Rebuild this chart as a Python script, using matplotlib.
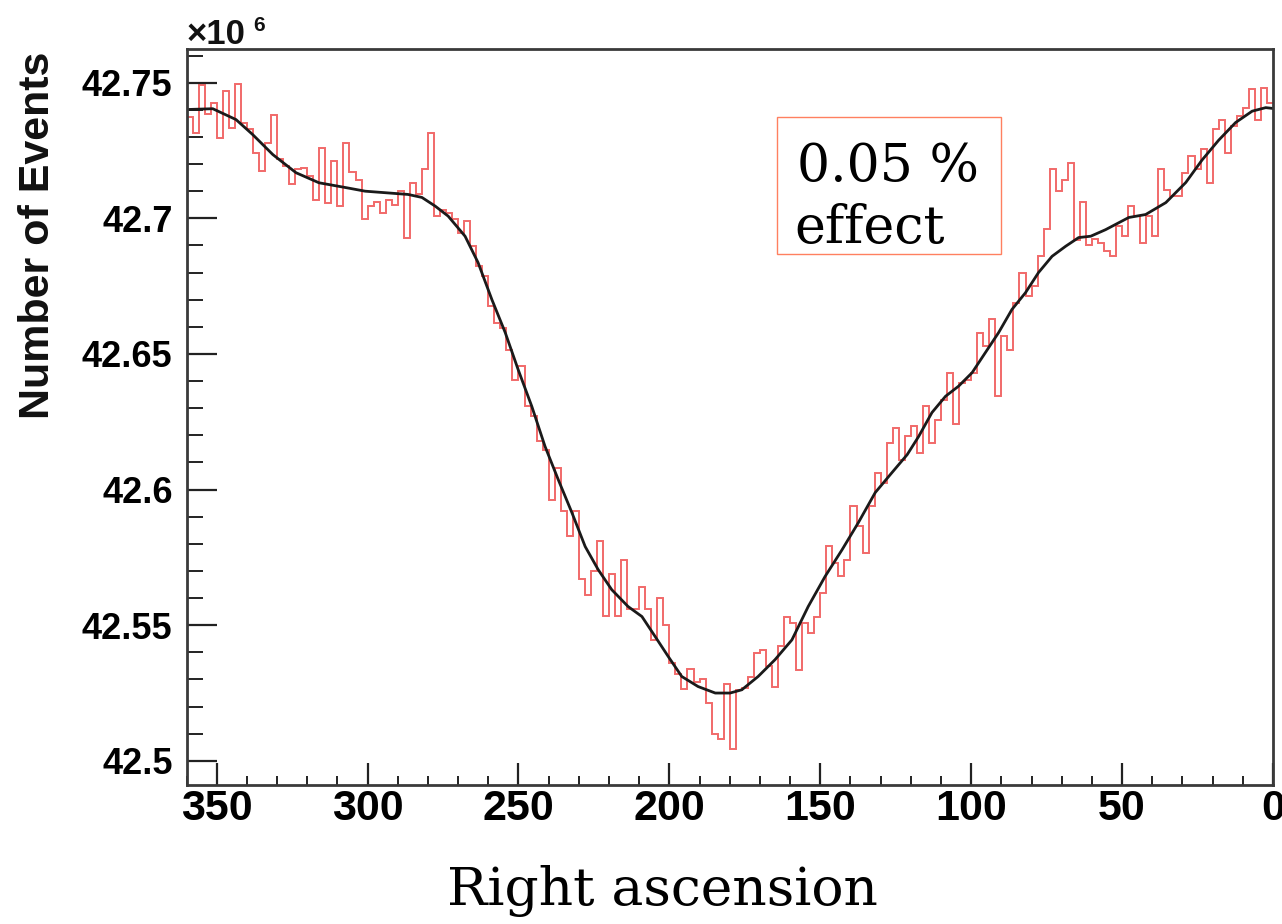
import numpy as np
import matplotlib
matplotlib.use("Agg")
import matplotlib.pyplot as plt
from matplotlib.ticker import MultipleLocator, FuncFormatter
from matplotlib.patches import Rectangle

# Event counts per 2-degree right-ascension bin (in units of 10^6),
# listed from 360 deg down to 0 deg.
counts = [
    42.7375, 42.7316, 42.7490, 42.7385, 42.7426, 42.7297, 42.7469, 42.7334, 42.7494, 42.7350,
    42.7330, 42.7242, 42.7174, 42.7278, 42.7380, 42.7217, 42.7192, 42.7125, 42.7180, 42.7186,
    42.7155, 42.7069, 42.7260, 42.7057, 42.7211, 42.7045, 42.7278, 42.7170, 42.7143, 42.6996,
    42.7045, 42.7060, 42.7020, 42.7069, 42.7050, 42.7100, 42.6928, 42.7130, 42.7088, 42.7180,
    42.7315, 42.7008, 42.7032, 42.7020, 42.6996, 42.6947, 42.6990, 42.6897, 42.6823, 42.6786,
    42.6676, 42.6615, 42.6596, 42.6516, 42.6405, 42.6455, 42.6307, 42.6270, 42.6178, 42.6147,
    42.5960, 42.6080, 42.5920, 42.5830, 42.5920, 42.5670, 42.5610, 42.5700, 42.5810, 42.5535,
    42.5690, 42.5535, 42.5740, 42.5560, 42.5560, 42.5640, 42.5560, 42.5445, 42.5600, 42.5500,
    42.5360, 42.5320, 42.5265, 42.5340, 42.5290, 42.5300, 42.5215, 42.5100, 42.5080, 42.5285,
    42.5045, 42.5260, 42.5270, 42.5310, 42.5397, 42.5410, 42.5350, 42.5274, 42.5422, 42.5532,
    42.5510, 42.5336, 42.5510, 42.5470, 42.5532, 42.5618, 42.5791, 42.5730, 42.5680, 42.5742,
    42.5938, 42.5865, 42.5766, 42.5938, 42.6061, 42.6024, 42.6172, 42.6227, 42.6110, 42.6196,
    42.6233, 42.6135, 42.6307, 42.6172, 42.6258, 42.6332, 42.6430, 42.6240, 42.6393, 42.6405,
    42.6430, 42.6578, 42.6528, 42.6627, 42.6344, 42.6565, 42.6516, 42.6688, 42.6799, 42.6713,
    42.6750, 42.6860, 42.6960, 42.7180, 42.7100, 42.7140, 42.7205, 42.6920, 42.7060, 42.6900,
    42.6922, 42.6910, 42.6878, 42.6860, 42.6970, 42.6934, 42.7045, 42.7008, 42.6910, 42.7008,
    42.6934, 42.7180, 42.7106, 42.7082, 42.7082, 42.7167, 42.7229, 42.7180, 42.7254, 42.7131,
    42.7328, 42.7364, 42.7242, 42.7340, 42.7376, 42.7407, 42.7475, 42.7364, 42.7481, 42.7426,
]

# Smooth fit through the distribution: right ascension (deg) and value (10^6)
fit_ra = [
    360.0, 351.3, 343.6, 338.1, 331.4, 323.7, 316.1, 307.1, 300.8, 286.6,
    282.0, 277.6, 273.3, 267.7, 263.4, 258.8, 254.4, 250.1, 245.6, 241.2,
    236.8, 232.3, 227.9, 223.6, 219.1, 213.7, 209.1, 204.7, 200.4, 195.9,
    190.5, 184.8, 179.9, 176.0, 170.6, 165.0, 159.4, 154.0, 148.4, 142.8,
    137.4, 131.8, 126.3, 121.2, 117.4, 113.0, 108.5, 104.2, 99.7, 95.3,
    90.9, 86.5, 82.0, 77.7, 73.2, 68.7, 64.4, 60.4, 55.5, 47.8,
    42.2, 35.5, 28.9, 23.5, 18.0, 12.4, 6.9, 2.4, 0.0,
]
fit_val = [
    42.7401, 42.7404, 42.7364, 42.7309, 42.7235, 42.7168, 42.7131, 42.7113, 42.7100, 42.7088,
    42.7077, 42.7045, 42.7008, 42.6934, 42.6837, 42.6700, 42.6579, 42.6442, 42.6307, 42.6159,
    42.6036, 42.5915, 42.5790, 42.5705, 42.5631, 42.5569, 42.5532, 42.5458, 42.5385, 42.5311,
    42.5274, 42.5250, 42.5250, 42.5262, 42.5311, 42.5373, 42.5446, 42.5569, 42.5680, 42.5778,
    42.5878, 42.5989, 42.6062, 42.6129, 42.6196, 42.6284, 42.6344, 42.6381, 42.6431, 42.6505,
    42.6579, 42.6664, 42.6726, 42.6800, 42.6860, 42.6897, 42.6929, 42.6934, 42.6958, 42.7003,
    42.7014, 42.7058, 42.7132, 42.7215, 42.7288, 42.7353, 42.7395, 42.7408, 42.7405,
]

W, H = 1282, 924
fig = plt.figure(figsize=(W / 100, H / 100), dpi=100)
fig.patch.set_facecolor("white")

ax = fig.add_axes([186.5 / W, 1 - 785 / H, (1273 - 186.5) / W, (785 - 48.5) / H])

n = len(counts)
edges = np.linspace(0, 360, n + 1)
ax.stairs(np.array(counts)[::-1], edges, color="#f05a5a", lw=1.4, baseline=None, alpha=0.9)
ax.plot(fit_ra, fit_val, color="#1a1a1a", lw=2.0)

ax.set_xlim(360, 0)
ax.set_ylim(42.4911, 42.7626)

for s in ["left", "bottom", "right", "top"]:
    ax.spines[s].set_color("#3a3a3a")
    ax.spines[s].set_linewidth(2.0)

ax.xaxis.set_major_locator(MultipleLocator(50))
ax.xaxis.set_minor_locator(MultipleLocator(10))
ax.yaxis.set_major_locator(MultipleLocator(0.05))
ax.yaxis.set_minor_locator(MultipleLocator(0.01))
ax.xaxis.set_major_formatter(FuncFormatter(lambda v, p: f"{v:g}"))
ax.yaxis.set_major_formatter(FuncFormatter(lambda v, p: f"{v:g}"))

ax.tick_params(axis="x", which="major", direction="in", length=16, width=1.6,
               color="#222222", pad=3, top=False)
ax.tick_params(axis="x", which="minor", direction="in", length=6.5, width=1.4,
               color="#222222", top=False)
ax.tick_params(axis="y", which="major", direction="in", length=21.5, width=1.6,
               color="#222222", pad=10, right=False)
ax.tick_params(axis="y", which="minor", direction="in", length=11.5, width=1.4,
               color="#222222", right=False)

for lab in ax.get_xticklabels():
    lab.set_fontfamily("Liberation Sans")
    lab.set_fontweight("bold")
    lab.set_fontsize(31)
for lab in ax.get_yticklabels():
    lab.set_fontfamily("Liberation Sans")
    lab.set_fontweight("bold")
    lab.set_fontsize(26)

# Axis titles
fig.text(38 / W, 1 - 52 / H, "Number of Events", rotation=90, ha="center", va="top",
         fontfamily="Liberation Sans", fontweight="bold", fontsize=31, color="#111111")
fig.text(662 / W, 1 - 905 / H, "Right ascension", ha="center", va="baseline",
         fontfamily="DejaVu Serif", fontsize=38.5, color="black")

# Exponent marker
fig.text(187 / W, 1 - 44 / H, "\u00d710", ha="left", va="baseline",
         fontfamily="Liberation Sans", fontweight="bold", fontsize=25, color="#111111")
fig.text(253 / W, 1 - 31 / H, "6", ha="left", va="baseline",
         fontfamily="Liberation Sans", fontweight="bold", fontsize=15, color="#111111")

# Annotation box
fig.add_artist(Rectangle((777 / W, 1 - 254 / H), (1001 - 777) / W, (254 - 117) / H,
                         transform=fig.transFigure, fill=False, edgecolor="#ff8060", lw=1.0))
fig.text(797 / W, 1 - 181 / H, "0.05 %", ha="left", va="baseline",
         fontfamily="DejaVu Serif", fontsize=37.5, color="black")
fig.text(794 / W, 1 - 243 / H, "effect", ha="left", va="baseline",
         fontfamily="DejaVu Serif", fontsize=37.5, color="black")

fig.savefig("out.png", dpi=100)
